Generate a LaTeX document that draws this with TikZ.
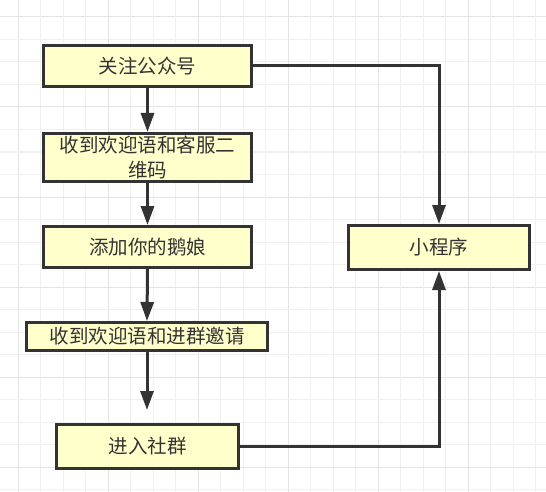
\documentclass[tikz,border=0pt]{standalone}
\usepackage{fontspec}
\newfontfamily\cjk{Noto Sans CJK SC}
\usetikzlibrary{arrows.meta}
\definecolor{ink}{HTML}{333333}
\definecolor{boxfill}{HTML}{FFFFCC}
\definecolor{gridminor}{HTML}{F0F0F0}
\definecolor{gridmajor}{HTML}{E4E4E4}
\tikzset{
  stepbox/.style={draw=ink, fill=boxfill, line width=3pt, rectangle, inner sep=0pt,
    text=ink, font=\cjk\fontsize{19.5}{24.5}\selectfont, align=center},
  flow/.style={draw=ink, line width=3pt, -{Triangle[length=19pt,width=13pt]}},
  link/.style={draw=ink, line width=3pt}
}
\begin{document}
\begin{tikzpicture}[x=1pt,y=-1pt]
\useasboundingbox (0,0) rectangle (546,492);
\fill[white] (0,0) rectangle (546,492);
% grid
\foreach \k in {0,...,24}{
  \pgfmathsetmacro{\gx}{18+22.5*(\k-1)}
  \pgfmathsetmacro{\gy}{17+22.5*(\k-1)}
  \pgfmathtruncatemacro{\m}{mod(\k+3,4)}
  \ifnum\m=0
    \draw[gridmajor, line width=1pt] (\gx,0) -- (\gx,492);
    \draw[gridmajor, line width=1pt] (0,\gy) -- (546,\gy);
  \else
    \draw[gridminor, line width=1pt] (\gx,0) -- (\gx,492);
    \draw[gridminor, line width=1pt] (0,\gy) -- (546,\gy);
  \fi
}
% boxes
\node[stepbox, minimum width=208pt, minimum height=41pt] (b1) at (147.5,66) {关注公众号};
\node[stepbox, minimum width=208pt, minimum height=48pt] (b2) at (147.5,157.5) {收到欢迎语和客服二\\维码};
\node[stepbox, minimum width=208pt, minimum height=41pt] (b3) at (147.5,247) {添加你的鹅娘};
\node[stepbox, minimum width=241pt, minimum height=28pt] (b4) at (147,336.5) {收到欢迎语和进群邀请};
\node[stepbox, minimum width=182pt, minimum height=44pt] (b5) at (147.5,446.5) {进入社群};
\node[stepbox, minimum width=181pt, minimum height=44pt] (b6) at (439,247.5) {小程序};
\coordinate (e4) at (147,410);
% connectors
\draw[flow] (b1.south) -- (b2.north);
\draw[flow] (b2.south) -- (b3.north);
\draw[flow] (b3.south) -- (b4.north);
\draw[flow] (b4.south) -- (e4);
\draw[flow] (b1.east) -| (b6.north);
\draw[flow] (b5.east) -| (b6.south);
\end{tikzpicture}
\end{document}
